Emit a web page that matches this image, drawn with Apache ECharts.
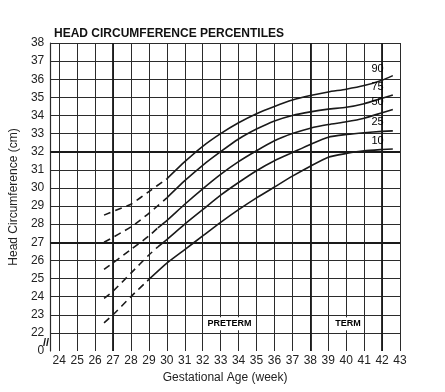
<!DOCTYPE html>
<html lang="en" style="height: 100%">
<head>
<meta charset="utf-8">
<title>Head Circumference Percentiles</title>
</head>
<body style="height: 100%; margin: 0; background: #fff">
<div id="container" style="width: 445px; height: 392px"></div>

<script type="text/javascript" src="https://cdn.jsdelivr.net/npm/echarts@6/dist/echarts.min.js"></script>

<script type="text/javascript">
// percentile curves, [gestational week, head circumference cm]
var p90 = [[26.5, 28.5], [27.5, 28.9], [28, 29.1], [29, 29.8], [30, 30.5], [31, 31.45], [32, 32.3], [33, 33.0], [34, 33.6], [35, 34.1], [36, 34.5], [37, 34.85], [38, 35.1], [39, 35.3], [40, 35.45], [41, 35.65], [42, 35.95], [42.6, 36.2]];
var p75 = [[26.5, 27.0], [28, 27.85], [29, 28.6], [30, 29.45], [31, 30.4], [32, 31.25], [33, 32.0], [34, 32.7], [35, 33.25], [36, 33.7], [37, 34.0], [38, 34.2], [39, 34.35], [40, 34.45], [41, 34.65], [42, 34.95], [42.6, 35.13]];
var p50 = [[26.5, 25.5], [28, 26.6], [29, 27.35], [29.5, 27.8], [30, 28.2], [31, 29.1], [32, 29.95], [33, 30.75], [34, 31.45], [35, 32.05], [36, 32.6], [37, 33.0], [38, 33.3], [39, 33.5], [40, 33.65], [41, 33.85], [42, 34.15], [42.6, 34.33]];
var p25 = [[26.5, 23.9], [27, 24.3], [28, 25.3], [29, 26.3], [29.5, 26.75], [30, 27.15], [31, 28.0], [32, 28.8], [33, 29.6], [34, 30.3], [35, 30.95], [36, 31.5], [37, 31.95], [38, 32.4], [39, 32.8], [40, 32.95], [41, 33.05], [42, 33.12], [42.6, 33.15]];
var p10 = [[26.5, 22.55], [27, 23.0], [28, 24.0], [29, 24.95], [30, 25.85], [31, 26.6], [32, 27.35], [33, 28.1], [34, 28.8], [35, 29.45], [36, 30.05], [37, 30.65], [38, 31.2], [39, 31.7], [40, 31.9], [41, 32.05], [42, 32.12], [42.6, 32.15]];

var curves = [p90, p75, p50, p25, p10];
var curveNames = ['90', '75', '50', '25', '10'];
var solidFrom = [30, 30, 29.5, 29.5, 29];   // dashed (extrapolated) part ends here

// where the percentile numbers sit
var pctLabels = [[41.75, 36.55, '90'], [41.75, 35.55, '75'], [41.75, 34.75, '50'], [41.75, 33.65, '25'], [41.75, 32.6, '10']];
var zoneLabels = [[33.5, 22.5, 'PRETERM'], [40.1, 22.5, 'TERM']];

var heavyWeeks = [27, 38, 42];
var heavyCm = [27, 32];

var dom = document.getElementById('container');
var myChart = echarts.init(dom);
var option;

var ink = '#1a1a1a';
var font = "'Liberation Sans', Arial, sans-serif";

var ySplitColors = [];
for (var v = 21; v <= 38; v++) {
    ySplitColors.push(v === 21 ? 'rgba(0,0,0,0)' : '#2b2b2b');
}

var series = [];
curves.forEach(function (pts, i) {
    var s = solidFrom[i];
    series.push({
        name: curveNames[i] + ' dashed',
        type: 'line',
        data: pts.filter(function (p) { return p[0] <= s; }),
        showSymbol: false,
        smooth: 0.2,
        silent: true,
        lineStyle: { color: ink, width: 1.6, type: [7, 5] }
    });
    series.push({
        name: curveNames[i],
        type: 'line',
        data: pts.filter(function (p) { return p[0] >= s; }),
        showSymbol: false,
        smooth: 0.2,
        silent: true,
        lineStyle: { color: ink, width: 1.6 }
    });
});

series.push({
    type: 'scatter',
    data: pctLabels,
    symbolSize: 0,
    silent: true,
    z: 5,
    itemStyle: { color: '#111', opacity: 1 },
    label: {
        show: true,
        position: 'inside',
        formatter: function (p) { return p.value[2]; },
        color: '#000',
        opacity: 1,
        textBorderWidth: 0,
        fontFamily: font,
        fontSize: 11
    },
    markLine: {
        silent: true,
        symbol: 'none',
        label: { show: false },
        lineStyle: { color: '#1a1a1a', width: 1.8, type: 'solid', opacity: 1 },
        data: heavyWeeks.map(function (w) { return { xAxis: w }; })
            .concat(heavyCm.map(function (c) { return { yAxis: c }; }))
    }
});

series.push({
    type: 'scatter',
    data: zoneLabels,
    symbolSize: 0,
    silent: true,
    z: 5,
    itemStyle: { color: '#111', opacity: 1 },
    label: {
        show: true,
        position: 'inside',
        formatter: function (p) { return p.value[2]; },
        color: '#000',
        opacity: 1,
        textBorderWidth: 0,
        fontFamily: font,
        fontSize: 9,
        fontWeight: 'bold',
        backgroundColor: '#fff',
        padding: [2, 3]
    }
});

option = {
    animation: false,
    backgroundColor: '#fff',
    title: {
        text: 'HEAD CIRCUMFERENCE PERCENTILES',
        left: 49,
        top: 23,
        textStyle: { color: '#111', fontFamily: font, fontSize: 12, fontWeight: 'bold' }
    },
    grid: {
        left: 48,
        right: 45,
        top: 43,
        bottom: 41
    },
    xAxis: {
        type: 'value',
        min: 23.5,
        max: 43,
        interval: 0.5,
        name: 'Gestational Age (week)',
        nameLocation: 'middle',
        nameGap: 21,
        nameTextStyle: { color: '#222', fontFamily: font, fontSize: 12 },
        axisLine: { show: false },
        axisTick: { show: false },
        axisLabel: {
            margin: 4,
            color: '#222',
            fontFamily: font,
            fontSize: 12,
            formatter: function (v) { return v % 1 === 0 ? String(v) : ''; }
        },
        splitLine: {
            show: true,
            lineStyle: { color: ['rgba(0,0,0,0)', '#2b2b2b'], width: 1 }
        }
    },
    yAxis: {
        type: 'value',
        min: 21,
        max: 38,
        interval: 1,
        name: 'Head Circumference (cm)',
        nameLocation: 'middle',
        nameGap: 25,
        nameTextStyle: { color: '#222', fontFamily: font, fontSize: 12 },
        axisLine: { show: true, lineStyle: { color: '#2b2b2b', width: 1.2 } },
        axisTick: { show: false },
        axisLabel: {
            margin: 6,
            color: '#222',
            fontFamily: font,
            fontSize: 12,
            formatter: function (v) { return v === 21 ? '0' : String(v); }
        },
        splitLine: {
            show: true,
            lineStyle: { color: ySplitColors, width: 1 }
        }
    },
    graphic: [{
        type: 'text',
        left: 43,
        top: 337,
        style: { text: '//', fill: '#111', font: 'bold 11px ' + font }
    }],
    series: series
};

if (option && typeof option === 'object') {
    myChart.setOption(option);
}

window.addEventListener('resize', myChart.resize);
</script>
</body>
</html>
